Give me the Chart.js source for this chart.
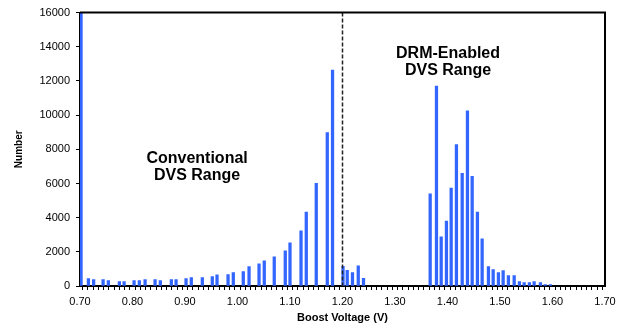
<!DOCTYPE html>
<html>
<head>
<meta charset="utf-8">
<script src="https://cdn.jsdelivr.net/npm/chart.js@4.4.1/dist/chart.umd.min.js"></script>
<style>
  html, body { margin: 0; padding: 0; background: #fff; }
  #wrap { width: 621px; height: 326px; }
</style>
</head>
<body>
<div id="wrap"><canvas id="boostChart" width="621" height="326"></canvas></div>
<script>
// boost voltage bins (V) and counts
const voltages = [
  0.702, 0.716, 0.726, 0.744, 0.754, 0.775, 0.784, 0.803, 0.813, 0.824,
  0.843, 0.853, 0.874, 0.883, 0.902, 0.912, 0.933, 0.952, 0.961, 0.982,
  0.992, 1.011, 1.022, 1.041, 1.051, 1.070, 1.091, 1.100, 1.121, 1.131,
  1.150, 1.171, 1.181, 1.201, 1.209, 1.219, 1.230, 1.240,
  1.367, 1.379, 1.388, 1.398, 1.407, 1.417, 1.428, 1.438, 1.447, 1.457,
  1.466, 1.478, 1.487, 1.497, 1.506, 1.516, 1.527, 1.537, 1.546, 1.556,
  1.565, 1.577, 1.586, 1.596
];
const counts = [
  16000, 440, 380, 380, 320, 260, 260, 320, 320, 380,
  380, 320, 380, 380, 440, 490, 500, 550, 660, 670,
  780, 840, 1130, 1300, 1480, 1710, 2060, 2530, 3230, 4330,
  6015, 8980, 12640, 1150, 910, 790, 1180, 445,
  5400, 11700, 2880, 3800, 5730, 8280, 6600, 10250, 6420, 4330,
  2765, 1130, 965, 780, 900, 610, 610, 260, 200, 200,
  260, 200, 85, 85
];

const yTicks = [0, 2000, 4000, 6000, 8000, 10000, 12000, 14000, 16000];
const xLabels = ['0.70', '0.80', '0.90', '1.00', '1.10', '1.20', '1.30', '1.40', '1.50', '1.60', '1.70'];
const dividerVoltage = 1.20;
const regionLabels = [
  { lines: ['Conventional', 'DVS Range'], x: 0.923, y: 7480 },
  { lines: ['DRM-Enabled', 'DVS Range'], x: 1.401, y: 13620 }
];

const FONT = "'Liberation Sans', Arial, sans-serif";

// frame, dashed divider and the two range captions
const overlayPlugin = {
  id: 'overlay',
  afterDatasetsDraw(chart) {
    const { ctx, chartArea: a, scales: { x, y } } = chart;
    ctx.save();

    const dx = x.getPixelForValue(dividerVoltage);
    ctx.strokeStyle = '#222';
    ctx.lineWidth = 1.5;
    ctx.setLineDash([4, 2]);
    ctx.beginPath();
    ctx.moveTo(dx, a.top);
    ctx.lineTo(dx, a.bottom);
    ctx.stroke();
    ctx.setLineDash([]);

    ctx.strokeStyle = '#000';
    ctx.lineWidth = 2;
    ctx.beginPath();
    ctx.moveTo(a.left, a.top);
    ctx.lineTo(a.right, a.top);
    ctx.lineTo(a.right, a.bottom);
    ctx.stroke();

    ctx.fillStyle = '#000';
    ctx.font = 'bold 16px ' + FONT;
    ctx.textAlign = 'center';
    ctx.textBaseline = 'middle';
    regionLabels.forEach((lbl) => {
      const px = x.getPixelForValue(lbl.x);
      const py = y.getPixelForValue(lbl.y);
      lbl.lines.forEach((line, i) => ctx.fillText(line, px, py + i * 17));
    });
    ctx.restore();
  }
};

const ctx = document.getElementById('boostChart').getContext('2d');
new Chart(ctx, {
  type: 'bar',
  data: {
    datasets: [{
      label: 'Number',
      data: voltages.map((v, i) => ({ x: v, y: counts[i] })),
      backgroundColor: '#3366ff',
      borderWidth: 0,
      barThickness: 2.6
    }]
  },
  options: {
    responsive: false,
    animation: false,
    events: [],
    layout: { padding: { top: 10, right: 16, left: 0, bottom: 0 } },
    plugins: { legend: { display: false }, tooltip: { enabled: false } },
    scales: {
      x: {
        type: 'linear',
        min: 0.70,
        max: 1.70,
        offset: false,
        afterFit: (s) => { s.height = 40; },
        grid: { drawOnChartArea: false, drawTicks: true, tickLength: 4, color: '#000', lineWidth: 1 },
        border: { display: true, color: '#000', width: 2 },
        ticks: {
          stepSize: 0.01,
          autoSkip: false,
          maxRotation: 0,
          minRotation: 0,
          padding: 5,
          color: '#000',
          font: { family: FONT, size: 11 },
          callback: (v) => {
            const hundredths = Math.round(v * 100);
            return hundredths % 10 === 0 ? xLabels[(hundredths - 70) / 10] : '';
          }
        },
        title: {
          display: true,
          text: 'Boost Voltage (V)',
          color: '#000',
          font: { family: FONT, size: 11, weight: 'bold' },
          padding: { top: 0, bottom: 1 }
        }
      },
      y: {
        min: 0,
        max: 16000,
        afterFit: (s) => { s.width = 80; },
        afterBuildTicks: (s) => { s.ticks = yTicks.map((v) => ({ value: v })); },
        grid: { drawOnChartArea: false, drawTicks: true, tickLength: 4, color: '#000' },
        border: { display: true, color: '#000', width: 2 },
        ticks: {
          padding: 6,
          color: '#000',
          font: { family: FONT, size: 11 },
          callback: (v) => String(v)
        },
        title: {
          display: true,
          text: 'Number',
          color: '#000',
          font: { family: FONT, size: 10, weight: 'bold' },
          padding: { top: 13, bottom: 0 }
        }
      }
    }
  },
  plugins: [overlayPlugin]
});
</script>
</body>
</html>
